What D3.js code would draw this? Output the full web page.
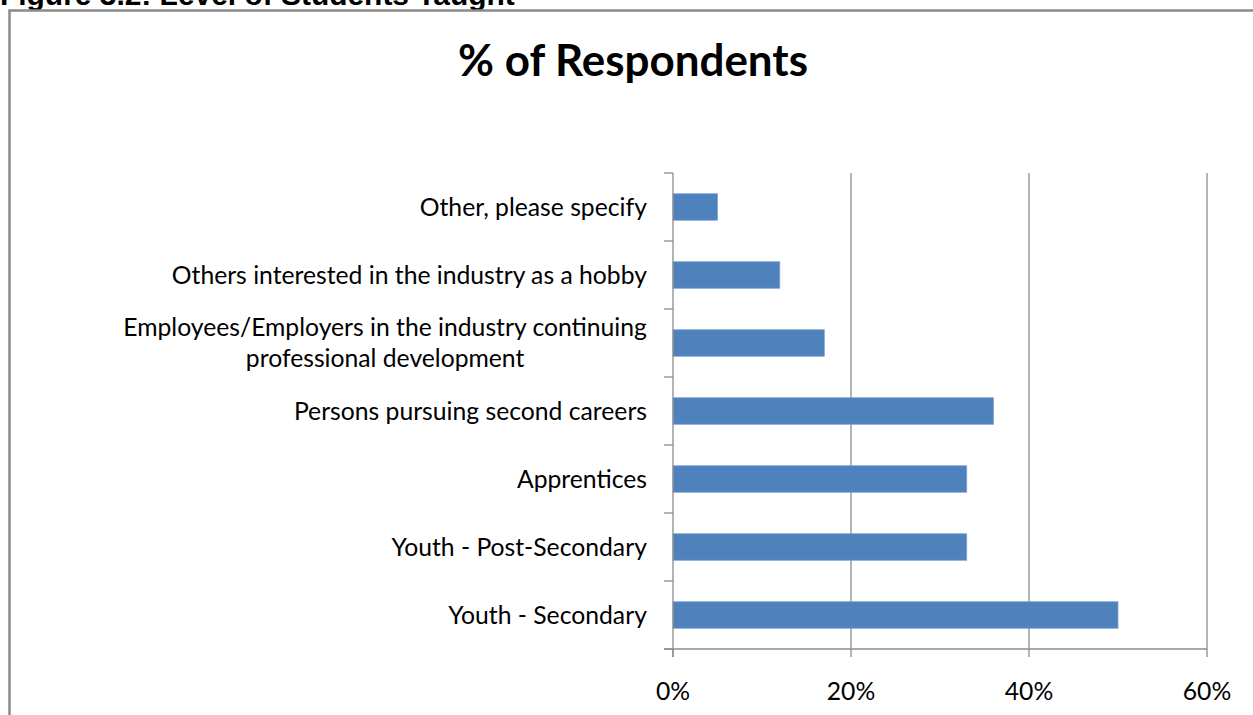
<!DOCTYPE html>
<html><head><meta charset="utf-8">
<script src="https://cdn.jsdelivr.net/npm/d3@7"></script>
<style>html,body{margin:0;padding:0;background:#fff;overflow:hidden}</style>
</head><body>
<svg id="c" width="1253" height="715"></svg>
<script>
const categories = [
  "Other, please specify",
  "Others interested in the industry as a hobby",
  "Employees/Employers in the industry continuing|professional development",
  "Persons pursuing second careers",
  "Apprentices",
  "Youth - Post-Secondary",
  "Youth - Secondary"
];
const values = [5, 12, 17, 36, 33, 33, 50];
const xTicks = [0, 20, 40, 60];
const chartTitle = "% of Respondents";
const figureHeading = "Figure 3.2: Level of Students Taught";

(function () {
const svg = d3.select("#c");
const W = 1253, H = 715;
const pL = 673, pR = 1207, pT = 173, pB = 649;
const labelFont = "Lato, 'Open Sans', sans-serif";

function fit(sel, target) {
  const w = sel.node().getComputedTextLength();
  const fs = parseFloat(sel.attr("font-size"));
  sel.attr("font-size", fs * target / w);
}

// figure heading (cut at top, as in the reference)
const fh = svg.append("text").attr("x", 0).attr("y", 5)
  .attr("font-family", "'Liberation Sans', Arial, sans-serif").attr("font-weight", "bold")
  .attr("font-size", 22).attr("fill", "#000").text(figureHeading);
fit(fh, 515);

// outer box
svg.append("rect").attr("x", 9.5).attr("y", 10.5).attr("width", W + 20).attr("height", H + 20)
  .attr("fill", "none").attr("stroke", "#8a8a8a").attr("stroke-width", 2.5);

// title
const t = svg.append("text").attr("x", 633).attr("y", 76).attr("text-anchor", "middle")
  .attr("font-family", labelFont).attr("font-weight", "bold").attr("font-size", 36)
  .attr("fill", "#000").text(chartTitle);
fit(t, 350);

const x = d3.scaleLinear().domain([0, 60]).range([pL, pR]);
const y = d3.scaleBand().domain(categories).range([pT, pB]).paddingInner(0.61).paddingOuter(0.305);
const yb = d3.scaleBand().domain(categories).range([pT, pB]);

// gridlines
svg.append("g").selectAll("line").data(xTicks.filter(d => d > 0)).join("line")
  .attr("x1", d => x(d)).attr("x2", d => x(d)).attr("y1", pT).attr("y2", pB)
  .attr("stroke", "#8c8c8c").attr("stroke-width", 1.3);

// bars
svg.append("g").selectAll("rect").data(values).join("rect")
  .attr("x", x(0)).attr("y", (d, i) => y(categories[i]))
  .attr("width", d => x(d) - x(0)).attr("height", y.bandwidth())
  .attr("fill", "#4F81BD").attr("stroke", "#7ea3d2").attr("stroke-width", 0.8);

// y axis line and ticks
svg.append("line").attr("x1", pL).attr("x2", pL).attr("y1", pT).attr("y2", pB + 8)
  .attr("stroke", "#8c8c8c").attr("stroke-width", 1.3);
const bounds = categories.map(c => yb(c)).concat([pB]);
svg.append("g").selectAll("line").data(bounds).join("line")
  .attr("x1", pL - 9).attr("x2", pL).attr("y1", d => d).attr("y2", d => d)
  .attr("stroke", "#8c8c8c").attr("stroke-width", 1.3);

// x axis
svg.append("line").attr("x1", pL - 9).attr("x2", pR).attr("y1", pB).attr("y2", pB)
  .attr("stroke", "#8c8c8c").attr("stroke-width", 1.3);
svg.append("g").selectAll("line").data(xTicks).join("line")
  .attr("x1", d => x(d)).attr("x2", d => x(d)).attr("y1", pB).attr("y2", pB + 8)
  .attr("stroke", "#8c8c8c").attr("stroke-width", 1.3);

// category labels
const lg = svg.append("g");
const probe = lg.append("text").attr("font-family", labelFont).attr("font-size", 21)
  .text("Employees/Employers in the industry continuing");
const fsLabel = 21 * 524 / probe.node().getComputedTextLength();
probe.remove();
categories.forEach((c, i) => {
  const lines = c.split("|");
  const cy = yb(c) + yb.bandwidth() / 2;
  const lh = 31;
  const txt = lg.append("text").attr("text-anchor", "middle")
    .attr("font-family", labelFont).attr("font-size", fsLabel).attr("fill", "#000");
  lines.forEach((l, j) => {
    txt.append("tspan").attr("x", 0).attr("y", cy + (j - (lines.length - 1) / 2) * lh + fsLabel * 0.35).text(l);
  });
  const bb = txt.node().getBBox();
  txt.attr("transform", `translate(${647 - bb.width / 2},0)`);
});

// x tick labels
svg.append("g").selectAll("text").data(xTicks).join("text")
  .attr("x", d => x(d)).attr("y", 700).attr("text-anchor", "middle")
  .attr("font-family", labelFont).attr("font-size", fsLabel).attr("fill", "#000")
  .text(d => d + "%");
})();
</script>
</body></html>
